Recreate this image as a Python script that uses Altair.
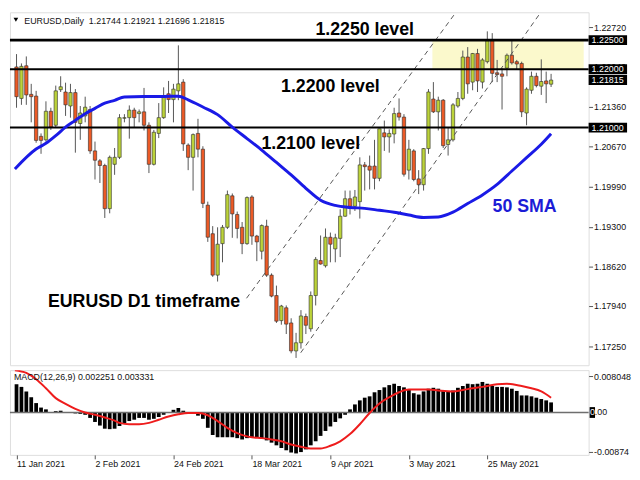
import altair as alt
import pandas as pd

# ---------------- data ----------------
# daily candles, index 0 = 11 Jan 2021
opens = [1.2204, 1.2150, 1.2206, 1.2157, 1.2154, 1.2085, 1.2079, 1.2128, 1.2104, 1.2165,
         1.2161, 1.2137, 1.2160, 1.2107, 1.2120, 1.2131, 1.2060, 1.2043, 1.2035, 1.1961,
         1.2037, 1.2049, 1.2116, 1.2117, 1.2130, 1.2124, 1.2127, 1.2104, 1.2037, 1.2090,
         1.2117, 1.2158, 1.2148, 1.2163, 1.2178, 1.2070, 1.2049, 1.2090, 1.2063, 1.1967,
         1.1918, 1.1847, 1.1901, 1.1929, 1.1983, 1.1951, 1.1929, 1.1901, 1.1981, 1.1914,
         1.1888, 1.1931, 1.1847, 1.1812, 1.1769, 1.1791, 1.1765, 1.1717, 1.1731, 1.1776,
         1.1755, 1.1812, 1.1872, 1.1863, 1.1912, 1.1892, 1.1910, 1.1948, 1.1978, 1.1965,
         1.1973, 1.2036, 1.2034, 1.2034, 1.2013, 1.2091, 1.2084, 1.2089, 1.2125, 1.2118,
         1.2027, 1.2060, 1.2012, 1.2002, 1.2064, 1.2149, 1.2127, 1.2147, 1.2071, 1.2079,
         1.2137, 1.2150, 1.2221, 1.2178, 1.2227, 1.2178, 1.2213, 1.2249, 1.2194, 1.2192,
         1.2202, 1.2224, 1.2213, 1.2210, 1.2125, 1.2164, 1.2188, 1.2171, 1.2180, 1.21744]
highs = [1.2226, 1.2210, 1.2222, 1.2175, 1.2163, 1.2090, 1.2145, 1.2134, 1.2172, 1.2188,
         1.2177, 1.2175, 1.2166, 1.2137, 1.2153, 1.2137, 1.2076, 1.2046, 1.2038, 1.2052,
         1.2065, 1.2123, 1.2123, 1.2138, 1.2134, 1.2131, 1.2168, 1.2109, 1.2096, 1.2142,
         1.2169, 1.2180, 1.2175, 1.2241, 1.2183, 1.2073, 1.2090, 1.2115, 1.2068, 1.1973,
         1.1931, 1.1929, 1.1933, 1.1992, 1.1987, 1.1956, 1.1938, 1.1982, 1.1984, 1.1916,
         1.1934, 1.1942, 1.1850, 1.1829, 1.1796, 1.1795, 1.1773, 1.1748, 1.1787, 1.1781,
         1.1819, 1.1878, 1.1915, 1.1927, 1.1920, 1.1918, 1.1960, 1.1992, 1.1992, 1.1993,
         1.2049, 1.2041, 1.2052, 1.2079, 1.2098, 1.2112, 1.2097, 1.2134, 1.2150, 1.2123,
         1.2079, 1.2063, 1.2027, 1.2065, 1.2166, 1.2178, 1.2153, 1.2149, 1.2101, 1.2142,
         1.2161, 1.2232, 1.2238, 1.2228, 1.2235, 1.2219, 1.2265, 1.2262, 1.2216, 1.2202,
         1.2227, 1.2251, 1.2216, 1.2213, 1.2169, 1.2196, 1.2194, 1.2217, 1.2196, 1.21921]
lows = [1.2134, 1.2139, 1.2139, 1.2109, 1.2074, 1.2055, 1.2076, 1.2096, 1.2101, 1.2161,
        1.2120, 1.2117, 1.2057, 1.2079, 1.2109, 1.2055, 1.2011, 1.2005, 1.1945, 1.1953,
        1.2019, 1.2046, 1.2109, 1.2081, 1.2101, 1.2109, 1.2095, 1.2022, 1.2035, 1.2082,
        1.2115, 1.2125, 1.2109, 1.2147, 1.2060, 1.2027, 1.1992, 1.2049, 1.1962, 1.1904,
        1.1844, 1.1836, 1.1869, 1.1926, 1.1911, 1.1910, 1.1883, 1.1899, 1.1899, 1.1871,
        1.1874, 1.1844, 1.1809, 1.1765, 1.1762, 1.1746, 1.1713, 1.1705, 1.1721, 1.1746,
        1.1750, 1.1795, 1.1865, 1.1860, 1.1869, 1.1869, 1.1878, 1.1947, 1.1951, 1.1957,
        1.1944, 1.1992, 1.1994, 1.1994, 1.2008, 1.2060, 1.2057, 1.2073, 1.2112, 1.2016,
        1.2011, 1.2008, 1.1986, 1.1992, 1.2055, 1.2125, 1.2095, 1.2065, 1.2052, 1.2076,
        1.2134, 1.2147, 1.2158, 1.2164, 1.2161, 1.2167, 1.2210, 1.2178, 1.2178, 1.2131,
        1.2188, 1.2208, 1.2199, 1.2118, 1.2104, 1.2158, 1.2169, 1.2156, 1.2142, 1.21696]
closes = [1.2153, 1.2205, 1.2156, 1.2153, 1.2078, 1.2078, 1.2128, 1.2101, 1.2163, 1.2170,
          1.2139, 1.2160, 1.2109, 1.2125, 1.2135, 1.2060, 1.2044, 1.2035, 1.1961, 1.2049,
          1.2049, 1.2117, 1.2117, 1.2130, 1.2117, 1.2127, 1.2104, 1.2037, 1.2092, 1.2117,
          1.2153, 1.2148, 1.2166, 1.2175, 1.2072, 1.2049, 1.2088, 1.2063, 1.1970, 1.1912,
          1.1847, 1.1900, 1.1929, 1.1985, 1.1952, 1.1927, 1.1901, 1.1980, 1.1914, 1.1904,
          1.1932, 1.1847, 1.1811, 1.1768, 1.1794, 1.1763, 1.1717, 1.1731, 1.1777, 1.1761,
          1.1812, 1.1874, 1.1866, 1.1912, 1.1900, 1.1911, 1.1948, 1.1978, 1.1965, 1.1981,
          1.2036, 1.2033, 1.2027, 1.2013, 1.2098, 1.2084, 1.2090, 1.2124, 1.2118, 1.2020,
          1.2063, 1.2011, 1.2002, 1.2064, 1.2161, 1.2127, 1.2147, 1.2069, 1.2079, 1.2139,
          1.2150, 1.2221, 1.2175, 1.2227, 1.2180, 1.2216, 1.2249, 1.2193, 1.2191, 1.2188,
          1.2224, 1.2211, 1.2209, 1.2127, 1.2166, 1.2188, 1.2172, 1.2179, 1.2175, 1.21815]

# 50 SMA (read at selected bars; first point at the panel's left edge)
sma_idx = [-0.33, 4, 6, 8, 10, 12, 14, 16, 18, 20, 22, 26, 30, 33, 35, 38, 41, 44, 47, 50,
           53, 56, 59, 62, 65, 68, 71, 74, 77, 80, 83, 86, 89, 92, 95, 98, 101, 104, 107, 109]
sma_val = [1.20290, 1.20632, 1.20730, 1.20861, 1.21009, 1.21124, 1.21239, 1.21329, 1.21419, 1.21468,
           1.21526, 1.21534, 1.21534, 1.21539, 1.21476, 1.21353, 1.21222, 1.21009, 1.20812, 1.20615,
           1.20402, 1.20189, 1.19959, 1.19754, 1.19665, 1.19631, 1.19615, 1.19582, 1.19549, 1.19500,
           1.19459, 1.19467, 1.19549, 1.19697, 1.19845, 1.20025, 1.20255, 1.20484, 1.20714, 1.20894]

# MACD(12,26,9) histogram, one per bar
macd_hist = [0.0063, 0.0057, 0.0047, 0.0034, 0.0021, 0.0011, 0.0007, 0.0001, 0.0003, 0.0004,
             0.00005, -0.00005, -0.0002, -0.0003, -0.0005, -0.0012, -0.0021, -0.0029, -0.0036, -0.0037,
             -0.0036, -0.0030, -0.0024, -0.0019, -0.0016, -0.0012, -0.0012, -0.0016, -0.0014, -0.0010,
             -0.0005, -0.0001, 0.0006, 0.0010, 0.0004, -0.0001, -0.0003, -0.0007, -0.0014, -0.0034,
             -0.0050, -0.0055, -0.0055, -0.0055, -0.0055, -0.0057, -0.0060, -0.0057, -0.0055, -0.0055,
             -0.0057, -0.0062, -0.0067, -0.0073, -0.0079, -0.0084, -0.0089, -0.0091, -0.0088, -0.0082,
             -0.0073, -0.0064, -0.0052, -0.0041, -0.0031, -0.0021, -0.0013, -0.0005, 0.0007, 0.0018,
             0.0027, 0.0033, 0.0036, 0.0045, 0.0050, 0.0056, 0.0061, 0.0064, 0.0059, 0.0056,
             0.0050, 0.0043, 0.0040, 0.0047, 0.0053, 0.0055, 0.0053, 0.0049, 0.0047, 0.0049,
             0.0055, 0.0059, 0.0064, 0.0063, 0.0064, 0.0068, 0.0064, 0.0059, 0.0057, 0.0057,
             0.0056, 0.0053, 0.0048, 0.0038, 0.0038, 0.0036, 0.0033, 0.0030, 0.0027, 0.00225]

# MACD signal line (read at selected bars)
sig_idx = [-0.33, 2, 4, 6, 8, 10, 12, 14, 16, 18, 20, 21, 23, 25, 27, 29, 31, 33, 35, 37,
           39, 41, 43, 45, 47, 48, 50, 52, 54, 56, 58, 60, 62, 64, 66, 68, 70, 72, 74, 76,
           78, 80, 82, 84, 86, 89, 91, 93, 95, 98, 100, 103, 105, 107, 109]
sig_val = [0.0094, 0.0088, 0.0074, 0.0054, 0.0032, 0.0019, 0.0008, 0.0000, -0.0005, -0.0011,
           -0.0018, -0.0023, -0.0026, -0.0026, -0.0023, -0.0016, -0.0009, -0.0004, -0.0001, -0.0001,
           -0.0006, -0.0019, -0.0034, -0.0046, -0.0053, -0.0055, -0.0057, -0.0060, -0.0064, -0.0071,
           -0.0076, -0.0080, -0.0080, -0.0074, -0.0064, -0.0048, -0.0026, -0.0001, 0.0020, 0.0034,
           0.0045, 0.0051, 0.0051, 0.0051, 0.0049, 0.0047, 0.0050, 0.0054, 0.0057, 0.0063,
           0.0064, 0.0059, 0.0054, 0.0047, 0.0033]

level_thick = [1.2250]
level_thin = [1.2200, 1.2100]
zone_lo, zone_hi = 1.2200, 1.2250
zone_start = 84.8

chan_line = ["upper", "upper", "lower", "lower"]
chan_idx = [46.9, 89.6, 57.95, 106.9]
chan_price = [1.18073, 1.22977, 1.17139, 1.22977]

price_ticks = [1.22720, 1.22040, 1.21360, 1.20670, 1.19990, 1.19300, 1.18620, 1.17940, 1.17250]
boxed_prices = [1.22500, 1.22000, 1.21815, 1.21000]
macd_ticks = [0.008048, -0.00874]
macd_tick_labels = ["0.008048", "-0.00874"]
date_idx = [0, 16, 32, 48, 64, 80, 96]
date_labels = ["11 Jan 2021", "2 Feb 2021", "24 Feb 2021", "18 Mar 2021",
               "9 Apr 2021", "3 May 2021", "25 May 2021"]

note_text = ["1.2250 level", "1.2200 level", "1.2100 level", "EURUSD D1 timeframe"]
note_idx = [71.0, 64.0, 60.0, 26.0]
note_price = [1.22592, 1.21616, 1.20632, 1.17918]
sma_label, sma_label_idx, sma_label_price = "50 SMA", 103.6, 1.19549

header_name = "EURUSD,Daily"
header_ohlc = "1.21744 1.21921 1.21696 1.21815"
macd_title = "MACD(12,26,9) 0.002251 0.003331"

# ---------------- styling ----------------
FONT = "Liberation Sans"
W, H1, H2 = 587, 358, 86
XDOM = [-0.33, 115.65]
PDOM = [1.169254, 1.22977]
MDOM = [-0.00943, 0.00943]
BULL, BEAR = "#bcd33a", "#ec5a26"
BLUE, RED = "#1a1ae6", "#ee1c1c"

xs = alt.Scale(domain=XDOM, nice=False, zero=False)
ys = alt.Scale(domain=PDOM, nice=False, zero=False)
ms = alt.Scale(domain=MDOM, nice=False, zero=False)

AX_P = alt.Axis(orient="right", values=price_ticks, format=".5f", title=None, grid=False,
                domain=False, tickSize=4, tickColor="#555555", labelPadding=1,
                labelFont=FONT, labelFontSize=9, labelColor="#111111")

date_expr = " : ".join(f"datum.value == {k} ? '{v}'" for k, v in zip(date_idx, date_labels)) + " : ''"
macd_expr = " : ".join(f"abs(datum.value - ({v})) < 1e-7 ? '{t}'"
                       for v, t in zip(macd_ticks, macd_tick_labels)) + " : ''"

AX_D = alt.Axis(values=date_idx, labelExpr=date_expr, title=None, grid=False, domain=False,
                tickSize=4, tickColor="#555555", labelAlign="left", labelFlush=False,
                labelOverlap=False, labelPadding=1, labelFont=FONT, labelFontSize=9,
                labelColor="#111111")
AX_M = alt.Axis(orient="right", values=macd_ticks, labelExpr=macd_expr, title=None, grid=False,
                domain=False, tickSize=4, tickColor="#555555", labelPadding=1,
                labelFont=FONT, labelFontSize=9, labelColor="#111111")

candles = pd.DataFrame({"i": list(range(len(opens))), "open": opens, "high": highs,
                        "low": lows, "close": closes})
candles["body_lo"] = candles[["open", "close"]].min(axis=1)
candles["body_hi"] = candles[["open", "close"]].max(axis=1)


def X(f="i"):
    return alt.X(f"{f}:Q", scale=xs, axis=None)


def Yp(f):
    return alt.Y(f"{f}:Q", scale=ys, axis=AX_P)


def one():
    return pd.DataFrame({"a": [0]})


zone = alt.Chart(pd.DataFrame({"a": [zone_start], "b": [XDOM[1]], "lo": [zone_lo], "hi": [zone_hi]})) \
    .mark_rect(color="#fbf9cc").encode(x=X("a"), x2="b:Q", y=Yp("lo"), y2="hi:Q")

wicks = alt.Chart(candles).mark_rule(color="#555555", strokeWidth=1).encode(
    x=X(), y=Yp("low"), y2="high:Q")

bodies = alt.Chart(candles).mark_bar(size=3.4, stroke="#2b2b2b", strokeWidth=0.6).encode(
    x=X(), y=Yp("body_lo"), y2="body_hi:Q",
    color=alt.condition("datum.close >= datum.open", alt.value(BULL), alt.value(BEAR)))

chan = alt.Chart(pd.DataFrame({"line": chan_line, "i": chan_idx, "p": chan_price})) \
    .mark_line(color="#555555", strokeWidth=1, strokeDash=[5, 4], clip=True) \
    .encode(x=X(), y=Yp("p"), detail="line:N")

lv_thick = alt.Chart(pd.DataFrame({"p": level_thick})).mark_rule(color="black", strokeWidth=3) \
    .encode(y=Yp("p"))
lv_thin = alt.Chart(pd.DataFrame({"p": level_thin})).mark_rule(color="black", strokeWidth=2) \
    .encode(y=Yp("p"))

sma = alt.Chart(pd.DataFrame({"i": sma_idx, "p": sma_val})) \
    .mark_line(color=BLUE, strokeWidth=3, interpolate="monotone") \
    .encode(x=X(), y=Yp("p"))

notes = alt.Chart(pd.DataFrame({"t": note_text, "i": note_idx, "p": note_price})) \
    .mark_text(font=FONT, fontSize=18, fontWeight="bold", color="black",
               align="center", baseline="alphabetic") \
    .encode(x=X(), y=Yp("p"), text="t:N")
sma_note = alt.Chart(pd.DataFrame({"t": [sma_label], "i": [sma_label_idx], "p": [sma_label_price]})) \
    .mark_text(font=FONT, fontSize=18, fontWeight="bold", color="#1c1cd6",
               align="center", baseline="alphabetic") \
    .encode(x=X(), y=Yp("p"), text="t:N")

boxdf = pd.DataFrame({"p": boxed_prices})
boxes = alt.Chart(boxdf).transform_calculate(lo="datum.p - 0.00085", hi="datum.p + 0.00085") \
    .mark_rect(color="black").encode(x=alt.value(W), x2=alt.value(W + 39),
                                     y=Yp("lo"), y2="hi:Q")
box_txt = alt.Chart(boxdf).mark_text(font=FONT, fontSize=9, color="white", align="left",
                                     baseline="middle") \
    .encode(x=alt.value(W + 3), y=Yp("p"), text=alt.Text("p:Q", format=".5f"))

hdr_tri = alt.Chart(one()).mark_point(
    shape="triangle-down", filled=True, size=22, color="black", opacity=1) \
    .encode(x=alt.value(6), y=alt.value(7.5))
hdr1 = alt.Chart(one()).mark_text(
    font=FONT, fontSize=9, color="#111111", align="left", baseline="alphabetic") \
    .encode(x=alt.value(14.5), y=alt.value(12), text=alt.value(header_name))
hdr2 = alt.Chart(one()).mark_text(
    font=FONT, fontSize=9, color="#111111", align="left", baseline="alphabetic") \
    .encode(x=alt.value(80), y=alt.value(12), text=alt.value(header_ohlc))

main = alt.layer(zone, wicks, bodies, chan, lv_thick, lv_thin, sma, notes, sma_note,
                 boxes, box_txt, hdr_tri, hdr1, hdr2).properties(width=W, height=H1)

# ---------------- MACD panel ----------------
def Xd(f="i"):
    return alt.X(f"{f}:Q", scale=xs, axis=AX_D)


def Ym(f):
    return alt.Y(f"{f}:Q", scale=ms, axis=AX_M)


mdf = pd.DataFrame({"i": list(range(len(macd_hist))), "m": macd_hist})
hist = alt.Chart(mdf).mark_bar(size=3.8, color="black").encode(
    x=Xd(), y=Ym("m"), y2=alt.datum(0))

zdf = pd.DataFrame({"z": [0.0]})
zero = alt.Chart(zdf).mark_rule(color="#6e6e6e", strokeWidth=1.6).encode(y=Ym("z"))

sig = alt.Chart(pd.DataFrame({"i": sig_idx, "s": sig_val})) \
    .mark_line(color=RED, strokeWidth=2, interpolate="monotone", clip=True) \
    .encode(x=Xd(), y=Ym("s"))

zbox = alt.Chart(zdf).transform_calculate(lo="datum.z - 0.0012", hi="datum.z + 0.0012") \
    .mark_rect(color="black").encode(x=alt.value(W + 1), x2=alt.value(W + 6.5),
                                     y=Ym("lo"), y2="hi:Q")
z0 = alt.Chart(zdf).mark_text(font=FONT, fontSize=9, color="white", align="left",
                              baseline="middle") \
    .encode(x=alt.value(W + 1.3), y=Ym("z"), text=alt.value("0"))
z1 = alt.Chart(zdf).mark_text(font=FONT, fontSize=9, color="#111111", align="left",
                              baseline="middle") \
    .encode(x=alt.value(W + 6.3), y=Ym("z"), text=alt.value(".00"))

mtitle = alt.Chart(one()).mark_text(
    font=FONT, fontSize=9, color="#111111", align="left", baseline="alphabetic") \
    .encode(x=alt.value(4), y=alt.value(10.5), text=alt.value(macd_title))

macd = alt.layer(hist, zero, sig, zbox, z0, z1, mtitle).properties(width=W, height=H2)

chart = alt.vconcat(main, macd, spacing=3).properties(padding=0) \
    .configure_view(stroke="#8c8c8c", strokeWidth=1) \
    .configure(background="white")

chart.save("out.html", embed_options={"renderer": "svg", "actions": False})
